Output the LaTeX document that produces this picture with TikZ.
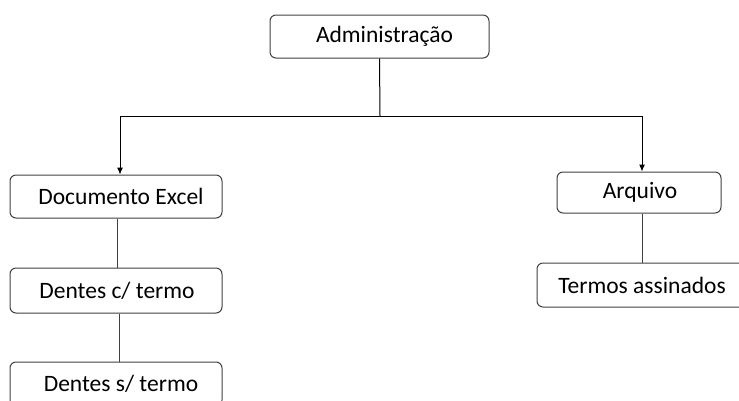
\documentclass[tikz,border=0pt]{standalone}
\usepackage{fontspec}
\setmainfont{Carlito}
\usetikzlibrary{shapes,arrows.meta}
\definecolor{boxline}{HTML}{404040}

\tikzset{
  orgbox/.style={draw=boxline, line width=1pt, rounded corners=6pt, fill=white,
    minimum height=43pt, inner sep=0pt, font=\fontsize{23.5}{28}\selectfont},
  link/.style={black, line width=1pt}
}

\begin{document}
\begin{tikzpicture}[x=1pt,y=-1pt]
\useasboundingbox (0,0) rectangle (739,400);
% Administracao
\node[orgbox, minimum width=219pt] (admin) at (379.5,36.5) {\hspace*{10pt}Administração};
% Documento Excel
\node[orgbox, minimum width=212pt] (doc) at (116,196.5) {\hspace*{10pt}Documento Excel};
% Dentes c/ termo
\node[orgbox, minimum width=212pt, minimum height=45pt] (dentesc) at (116,290.5) {\hspace*{2pt}Dentes c/ termo};
% Dentes s/ termo
\node[orgbox, minimum width=212pt, minimum height=44pt] (dentess) at (116,384) {\hspace*{10pt}Dentes s/ termo};
% Arquivo
\node[orgbox, minimum width=164pt, minimum height=41pt] (arq) at (639,192.5) {\hspace*{2pt}Arquivo};
% Termos assinados
\node[orgbox, minimum width=210pt, minimum height=44pt] (termos) at (642,285) {Termos assinados};

% Connect Administracao to Documento Excel and Arquivo
\coordinate (bus) at (380,116);
\draw[link] (admin.south) -- (bus);
\draw[link,-{Latex[length=7pt,width=6pt]}] (bus) -| ([xshift=4pt]doc.north);
\draw[link,-{Latex[length=7pt,width=6pt]}] (bus) -| ([xshift=3pt]arq.north);
% Documento Excel down to the Dentes boxes
\draw[link, boxline] ([xshift=1pt]doc.south) -- ([xshift=1pt]dentesc.north);
\draw[link, boxline] ([xshift=3pt]dentesc.south) -- ([xshift=3pt]dentess.north);
% Arquivo down to Termos assinados
\draw[link, boxline] ([xshift=3pt]arq.south) -- ([xshift=3pt]arq.south |- termos.north);
\end{tikzpicture}
\end{document}
